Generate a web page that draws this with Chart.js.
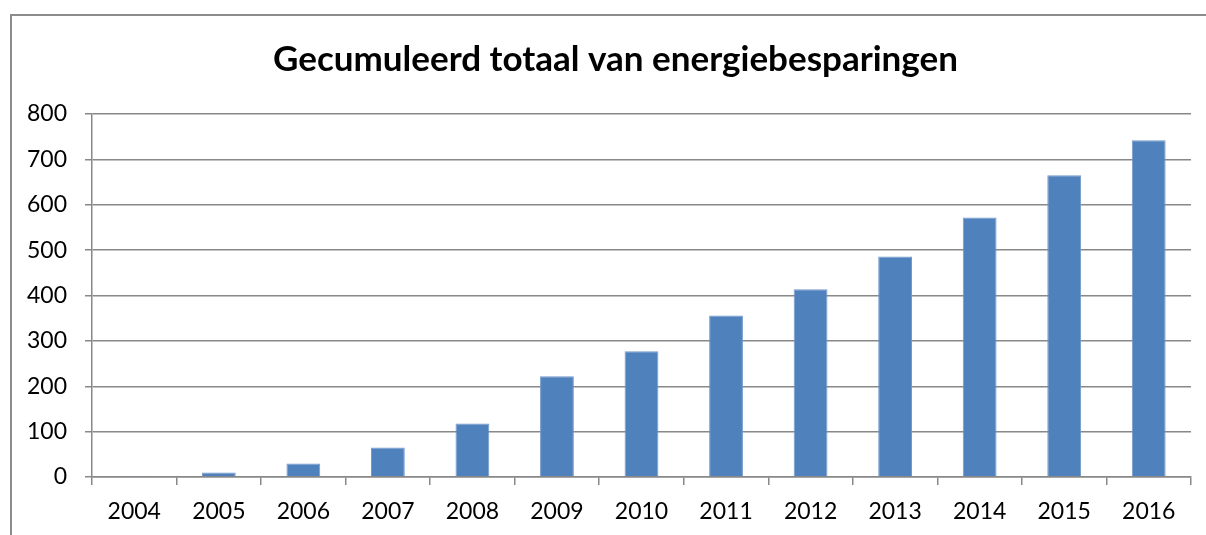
<!DOCTYPE html>
<html>
<head>
<meta charset="utf-8">
<script src="https://cdn.jsdelivr.net/npm/chart.js@4.4.1/dist/chart.umd.min.js"></script>
<style>
  html, body { margin: 0; padding: 0; background: #fff; }
  #frame {
    position: absolute; left: 10px; top: 14px; right: -4px; bottom: -4px;
    border-left: 2px solid #8c8c8c; border-top: 2px solid #8c8c8c;
  }
  #wrap { position: absolute; left: 0; top: 0; width: 1206px; height: 535px; }
</style>
</head>
<body>
<div id="frame"></div>
<div id="wrap"><canvas id="chart"></canvas></div>
<script>
const years = ["2004", "2005", "2006", "2007", "2008", "2009", "2010",
  "2011", "2012", "2013", "2014", "2015", "2016"];
const savings = [1, 10, 30, 65, 118, 222, 277, 356, 414, 486, 572, 665, 742];
const yTicks = [0, 100, 200, 300, 400, 500, 600, 700, 800];

const GRID = "#888888";
const FONT = "Lato, 'Open Sans', sans-serif";

// centre the title a little to the right of the canvas middle
const titleShift = {
  id: "titleShift",
  afterLayout: (chart) => {
    const t = chart.titleBlock;
    if (t) {
      t.left += 16;
      t.width = t.right - t.left;
    }
  },
};

const chart = new Chart(document.getElementById("chart"), {
  type: "bar",
  data: {
    labels: years,
    datasets: [{
      label: "Energiebesparingen",
      data: savings,
      backgroundColor: "#4f81bd",
      borderColor: "#7399cc",
      borderWidth: 1,
      barPercentage: 0.4,
      categoryPercentage: 1,
    }],
  },
  plugins: [titleShift],
  options: {
    responsive: true,
    maintainAspectRatio: false,
    animation: false,
    layout: { padding: { left: 24, right: 15, top: 0, bottom: 0 } },
    plugins: {
      legend: { display: false },
      tooltip: { enabled: false },
      title: {
        display: true,
        text: "Gecumuleerd totaal van energiebesparingen",
        color: "#000",
        font: { family: FONT, size: 35, weight: "bold" },
        padding: { top: 39, bottom: 33 },
      },
    },
    scales: {
      x: {
        grid: {
          offset: true,
          drawOnChartArea: false,
          drawTicks: true,
          tickLength: 8,
          color: GRID,
          lineWidth: 1.5,
        },
        border: { color: GRID, width: 1.5 },
        ticks: {
          color: "#000",
          font: { family: FONT, size: 23 },
          padding: 13,
          maxRotation: 0,
        },
        afterFit: (scale) => { scale.height = 58; },
      },
      y: {
        min: 0,
        max: 800,
        afterBuildTicks: (scale) => {
          scale.ticks = yTicks.map((v) => ({ value: v }));
        },
        grid: { color: GRID, lineWidth: 1.5, tickLength: 7 },
        border: { color: GRID, width: 1.5 },
        ticks: {
          color: "#000",
          font: { family: FONT, size: 23 },
          padding: 18,
        },
        afterFit: (scale) => { scale.width = 68; },
      },
    },
  },
});
</script>
</body>
</html>
